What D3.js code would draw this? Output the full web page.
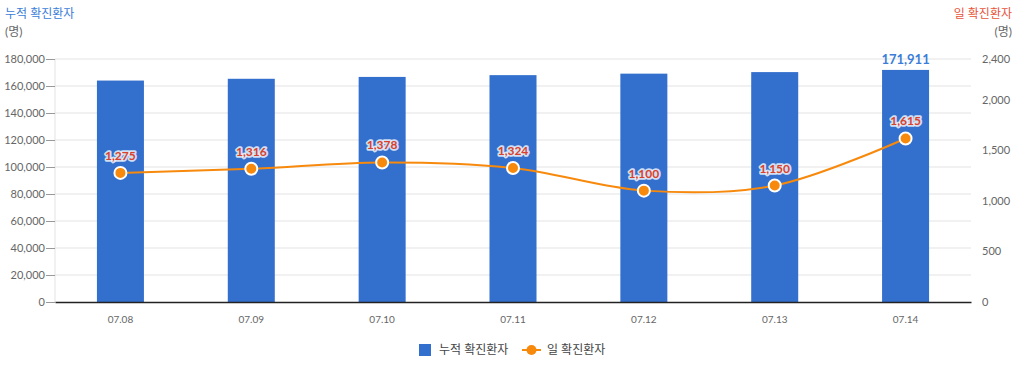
<!DOCTYPE html>
<html>
<head>
<meta charset="utf-8">
<script src="https://cdn.jsdelivr.net/npm/d3@7"></script>
<style>
body { margin: 0; background: #fff; }
text { font-family: Lato, "Noto Sans CJK KR", sans-serif; }
</style>
</head>
<body>
<div id="chart"></div>
<script>
// data
var dates = ["07.08", "07.09", "07.10", "07.11", "07.12", "07.13", "07.14"];
var totalCases = [164028, 165344, 166722, 168046, 169146, 170296, 171911];
var dailyCases = [1275, 1316, 1378, 1324, 1100, 1150, 1615];
var leftTicks = [0, 20000, 40000, 60000, 80000, 100000, 120000, 140000, 160000, 180000];
var rightTicks = [0, 500, 1000, 1500, 2000, 2400];

var W = 1020, H = 370;
var plotL = 55, plotR = 971, plotT = 59, plotB = 302;

var svg = d3.select("#chart").append("svg")
    .attr("width", W)
    .attr("height", H);

var x = d3.scaleBand().domain(dates).range([plotL, plotR]);
var yL = d3.scaleLinear().domain([0, 180000]).range([plotB, plotT]);
var yR = d3.scaleLinear().domain([0, 2400]).range([plotB, plotT]);

var fmt = d3.format(",");

// grid lines
svg.append("g").selectAll("line")
    .data(leftTicks.slice(1))
    .enter().append("line")
    .attr("x1", plotL).attr("x2", plotR)
    .attr("y1", function (d) { return yL(d); })
    .attr("y2", function (d) { return yL(d); })
    .attr("stroke", "#e3e3e3");

// left vertical line
svg.append("line")
    .attr("x1", plotL).attr("x2", plotL)
    .attr("y1", plotT).attr("y2", plotB)
    .attr("stroke", "#e3e3e3");

// left axis
var axL = svg.append("g")
    .attr("transform", "translate(" + plotL + ",0)")
    .call(d3.axisLeft(yL).tickValues(leftTicks).tickSize(9).tickPadding(1).tickFormat(fmt));
axL.select(".domain").remove();
axL.selectAll("line").attr("stroke", "#999");
axL.selectAll("text").attr("fill", "#666").style("font-size", "11px");

// right axis
var axR = svg.append("g")
    .attr("transform", "translate(" + plotR + ",0)")
    .call(d3.axisRight(yR).tickValues(rightTicks).tickSize(0).tickPadding(11).tickFormat(fmt));
axR.select(".domain").remove();
axR.selectAll("text").attr("fill", "#666").style("font-size", "11px");

// bars
var bw = 47;
svg.append("g").selectAll("rect")
    .data(totalCases)
    .enter().append("rect")
    .attr("x", function (d, i) { return x(dates[i]) + x.bandwidth() / 2 - bw / 2; })
    .attr("y", function (d) { return yL(d); })
    .attr("width", bw)
    .attr("height", function (d) { return plotB - yL(d); })
    .attr("fill", "#336fcc");

// bottom axis
var axB = svg.append("g")
    .attr("transform", "translate(0," + plotB + ")")
    .call(d3.axisBottom(x).tickSize(0).tickPadding(14));
axB.select(".domain").attr("stroke", "#222").attr("stroke-width", 1.5);
axB.selectAll("text").attr("fill", "#666").style("font-size", "10px");

// last bar label
var last = totalCases.length - 1;
svg.append("text")
    .attr("x", x(dates[last]) + x.bandwidth() / 2)
    .attr("y", yL(totalCases[last]) - 6)
    .attr("text-anchor", "middle")
    .attr("fill", "#3b7dd8")
    .style("font-size", "13px")
    .style("font-weight", "bold")
    .text(fmt(totalCases[last]));

// daily line
var cx = function (d, i) { return x(dates[i]) + x.bandwidth() / 2; };
var line = d3.line()
    .x(cx)
    .y(function (d) { return yR(d); })
    .curve(d3.curveCatmullRom.alpha(0.5));

svg.append("path")
    .datum(dailyCases)
    .attr("d", line)
    .attr("fill", "none")
    .attr("stroke", "#f7890c")
    .attr("stroke-width", 2);

svg.append("g").selectAll("circle")
    .data(dailyCases)
    .enter().append("circle")
    .attr("cx", cx)
    .attr("cy", function (d) { return yR(d); })
    .attr("r", 6)
    .attr("fill", "#f7890c")
    .attr("stroke", "#fff")
    .attr("stroke-width", 2);

// point labels with halo
svg.append("g").selectAll("text")
    .data(dailyCases)
    .enter().append("text")
    .attr("x", cx)
    .attr("y", function (d) { return yR(d) - 13; })
    .attr("text-anchor", "middle")
    .style("font-size", "12px")
    .style("font-weight", "bold")
    .attr("fill", "#d9412b")
    .attr("stroke", "#eef2fa")
    .attr("stroke-width", 3.5)
    .attr("stroke-opacity", 0.85)
    .attr("paint-order", "stroke")
    .attr("stroke-linejoin", "round")
    .text(function (d) { return fmt(d); });

// axis titles
svg.append("text").attr("x", 5).attr("y", 18)
    .attr("fill", "#3b7dd8").style("font-size", "12px").text("누적 확진환자");
svg.append("text").attr("x", 5).attr("y", 36)
    .attr("fill", "#666").style("font-size", "12px").text("(명)");
svg.append("text").attr("x", 1012).attr("y", 18).attr("text-anchor", "end")
    .attr("fill", "#e8543b").style("font-size", "12px").text("일 확진환자");
svg.append("text").attr("x", 1012).attr("y", 36).attr("text-anchor", "end")
    .attr("fill", "#666").style("font-size", "12px").text("(명)");

// legend
var lg = svg.append("g");
lg.append("rect").attr("x", 419).attr("y", 344).attr("width", 12).attr("height", 12).attr("fill", "#336fcc");
lg.append("text").attr("x", 439).attr("y", 354).attr("fill", "#444").style("font-size", "12px").text("누적 확진환자");
lg.append("line").attr("x1", 522).attr("x2", 541).attr("y1", 350).attr("y2", 350)
    .attr("stroke", "#f7890c").attr("stroke-width", 2).attr("stroke-dasharray", "5,2");
lg.append("circle").attr("cx", 531.5).attr("cy", 350).attr("r", 5).attr("fill", "#f7890c");
lg.append("text").attr("x", 547).attr("y", 354).attr("fill", "#444").style("font-size", "12px").text("일 확진환자");
</script>
</body>
</html>
